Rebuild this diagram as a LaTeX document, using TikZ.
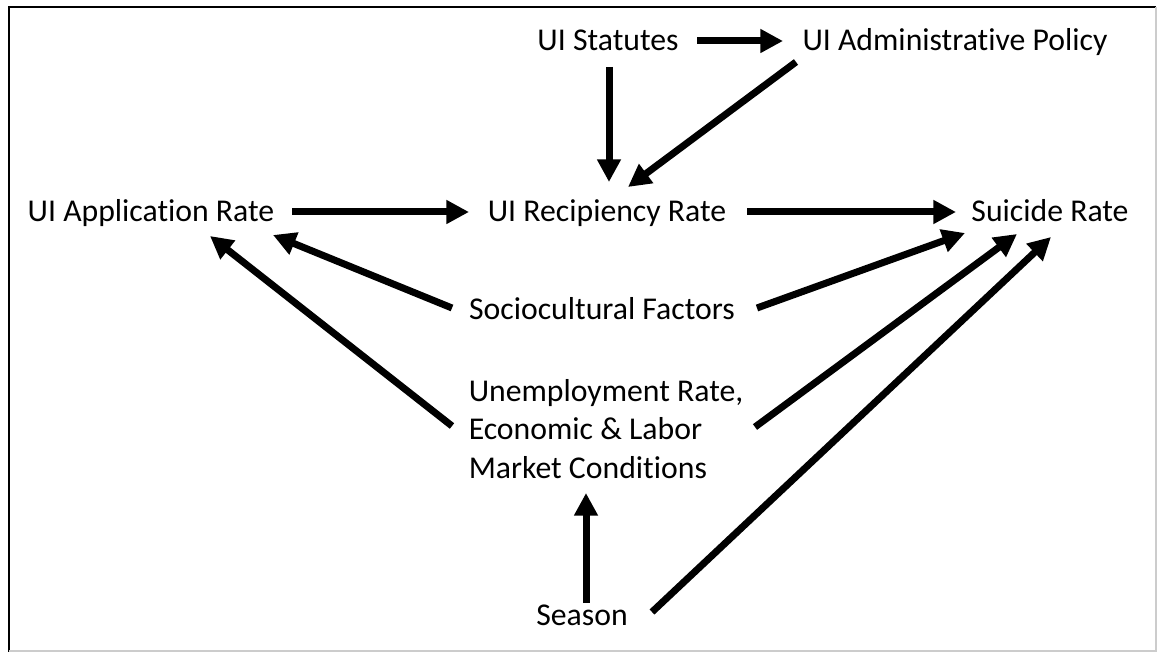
\documentclass[tikz,border=0pt]{standalone}
\usepackage{fontspec}
\setmainfont{Carlito}[Ligatures=NoCommon]
\usepackage{tikz}
\usetikzlibrary{arrows.meta, calc, positioning}

\begin{document}
\begin{tikzpicture}[x=0.75pt, y=-0.75pt,
    lbl/.style={inner sep=0pt, font=\fontsize{23.8}{29}\selectfont},
    arr/.style={line width=5.25pt, -{Triangle[length=17pt, width=17pt]}}]
    \useasboundingbox (0,0) rectangle (1157,652);

    % 外框
    \draw[line width=1.5pt] (8.5,652) -- (8.5,7) -- (1156,7);
    \draw[gray!40, line width=1pt] (1156,7) -- (1156,651) -- (8.5,651);

    % 节点
    \node[lbl, anchor=base] (stat)   at (608,51)  {UI Statutes};
    \node[lbl, anchor=base] (admin)  at (955,51)  {UI Administrative Policy};
    \node[lbl, anchor=base] (app)    at (151,222) {UI Application Rate};
    \node[lbl, anchor=base] (recip)  at (607,222) {UI Recipiency Rate};
    \node[lbl, anchor=base] (suic)   at (1050,222) {Suicide Rate};
    \node[lbl, anchor=base] (soc)    at (602,320) {Sociocultural Factors};
    \node[lbl, align=left]  (unemp)  at (606,429) {Unemployment Rate,\\Economic \& Labor\\Market Conditions};
    \node[lbl, anchor=base] (season) at (582,625) {Season};

    % 上层
    \draw[arr] ($(stat.base)+(89,-10)$) -- ($(admin.base)+(-172,-10)$);
    \draw[arr] ($(stat.base)+(1,16)$) -- ($(recip.base)+(2,-40)$);
    \draw[arr] ($(admin.base)+(-159,11)$) -- ($(recip.base)+(21,-35)$);

    % 中间一行
    \draw[arr] ($(app.base)+(141,-10)$) -- ($(recip.base)+(-138,-10)$);
    \draw[arr] ($(recip.base)+(140,-10)$) -- ($(suic.base)+(-94,-10)$);

    % 下层
    \draw[arr] ($(soc.base)+(-150,-12)$) -- ($(app.base)+(122,13)$);
    \draw[arr] ($(soc.base)+(155,-12)$) -- ($(suic.base)+(-85,11)$);
    \draw[arr] ($(unemp.center)+(-154,-3)$) -- ($(app.base)+(59,14)$);
    \draw[arr] ($(unemp.center)+(149,-2)$) -- ($(suic.base)+(-33,12)$);
    \draw[arr] ($(season.base)+(4,-22)$) -- ($(unemp.center)+(-20,64)$);
    \draw[arr] ($(season.base)+(70,-13)$) -- ($(suic.base)+(1,15)$);
\end{tikzpicture}
\end{document}
